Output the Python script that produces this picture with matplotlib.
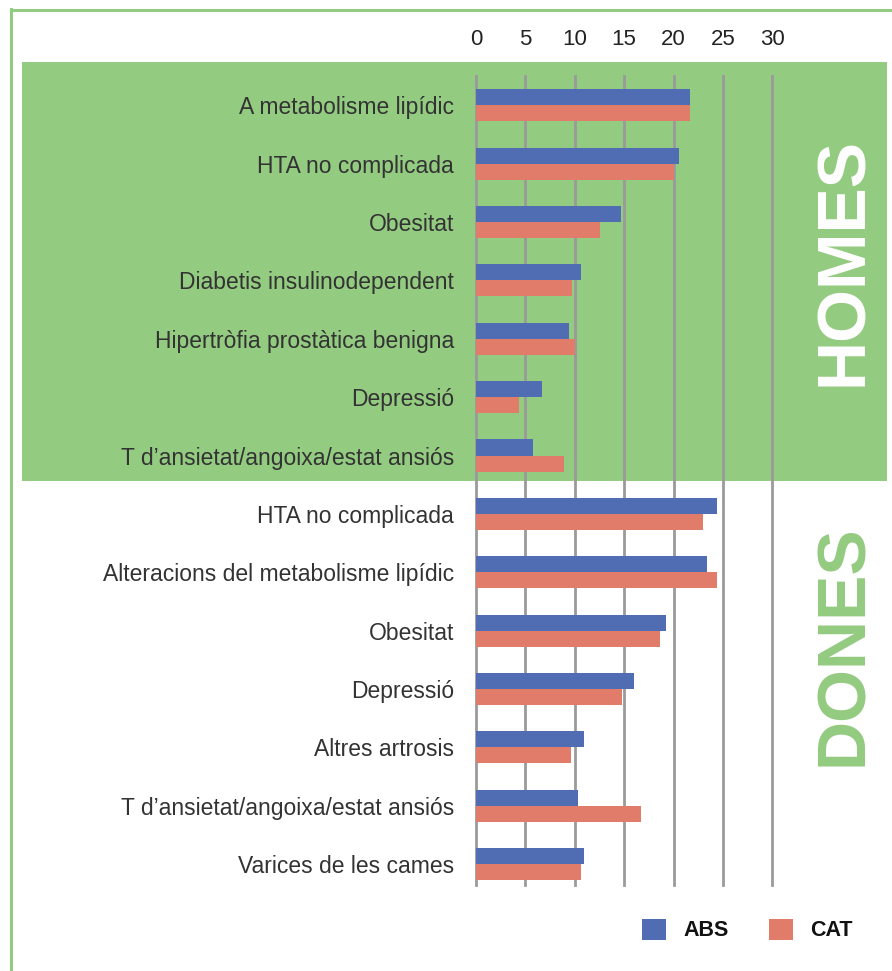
import matplotlib
matplotlib.use("Agg")
import matplotlib.pyplot as plt
import numpy as np
from matplotlib.patches import Rectangle
from matplotlib.lines import Line2D

plt.rcParams['font.family'] = ['Liberation Sans', 'DejaVu Sans']

categories = [
    "A metabolisme lipídic",
    "HTA no complicada",
    "Obesitat",
    "Diabetis insulinodependent",
    "Hipertròfia prostàtica benigna",
    "Depressió",
    "T d\u2019ansietat/angoixa/estat ansiós",
    "HTA no complicada",
    "Alteracions del metabolisme lipídic",
    "Obesitat",
    "Depressió",
    "Altres artrosis",
    "T d\u2019ansietat/angoixa/estat ansiós",
    "Varices de les cames",
]
abs_vals = [21.7, 20.6, 14.7, 10.6, 9.4, 6.7, 5.8,
            24.4, 23.4, 19.2, 16.0, 10.9, 10.3, 10.9]
cat_vals = [21.7, 20.0, 12.6, 9.7, 10.05, 4.4, 8.9,
            23.0, 24.4, 18.6, 14.8, 9.6, 16.7, 10.6]
xticks = [0, 5, 10, 15, 20, 25, 30]
group_labels = ["HOMES", "DONES"]
series_names = ["ABS", "CAT"]

BLUE = "#506db4"
RED = "#e27c6a"
GREEN = "#93cb80"
GRID = "#9a9a9a"
TEXT = "#333333"

W, H = 892, 971
fig = plt.figure(figsize=(W / 100, H / 100), dpi=100)
fig.patch.set_facecolor("white")

def fx(px):
    return px / W

def fy(py):
    return 1 - py / H

# green HOMES band
fig.patches.append(Rectangle((fx(22), fy(481)), fx(887) - fx(22), fy(62) - fy(481),
                             transform=fig.transFigure, facecolor=GREEN,
                             edgecolor="none", zorder=-5))
# outer border lines
fig.add_artist(Line2D([fx(11), fx(11)], [fy(9.5), 0], transform=fig.transFigure,
                      color=GREEN, lw=2.2, zorder=-4))
fig.add_artist(Line2D([fx(11), 1], [fy(10.5), fy(10.5)], transform=fig.transFigure,
                      color=GREEN, lw=2.2, zorder=-4))

ppu = (772.3 - 476) / 30.0
xmax = 30.3
row = 58.4
top_px, bot_px = 76, 885
n = len(categories)
y_top = -0.5
y_bot = (n - 1) + (bot_px - (105 + (n - 1) * row)) / row
ax = fig.add_axes([fx(476), fy(bot_px), xmax * ppu / W, (bot_px - top_px) / H])
ax.set_facecolor("none")
ax.patch.set_visible(False)

y = np.arange(n)
h = 0.275
ax.barh(y - h / 2, abs_vals, height=h, color=BLUE, zorder=3, label=series_names[0])
ax.barh(y + h / 2, cat_vals, height=h, color=RED, zorder=3, label=series_names[1])

ax.set_xlim(0, xmax)
ax.set_ylim(y_bot, y_top)
ax.set_xticks(xticks)
ax.xaxis.tick_top()
ax.tick_params(axis="x", length=0, pad=19, labelsize=16, labelcolor="#222222")
ax.set_yticks(y)
ax.set_yticklabels(categories)
ax.tick_params(axis="y", length=0, pad=16, labelsize=16.5, labelcolor=TEXT)
for s in ax.spines.values():
    s.set_visible(False)
ax.grid(axis="x", color=GRID, lw=2, zorder=1)
ax.grid(axis="y", visible=False)
for gl in ax.get_xgridlines():
    gl.set_clip_on(False)

fig.text(fx(844), fy(262), group_labels[0], rotation=90, ha="center", va="center",
         fontsize=49, fontweight="bold", color="white")
fig.text(fx(844), fy(645), group_labels[1], rotation=90, ha="center", va="center",
         fontsize=49, fontweight="bold", color=GREEN)

handles, labels = ax.get_legend_handles_labels()
leg = fig.legend(handles, labels, loc="center left", bbox_to_anchor=(fx(642), fy(930)),
                 ncol=2, frameon=False, borderpad=0, borderaxespad=0,
                 handlelength=1.12, handleheight=1.12, handletextpad=0.79,
                 columnspacing=1.9, prop={"size": 15.5, "weight": "bold"})
for t in leg.get_texts():
    t.set_color("#111111")

fig.savefig("out.png", dpi=100, facecolor="white")
